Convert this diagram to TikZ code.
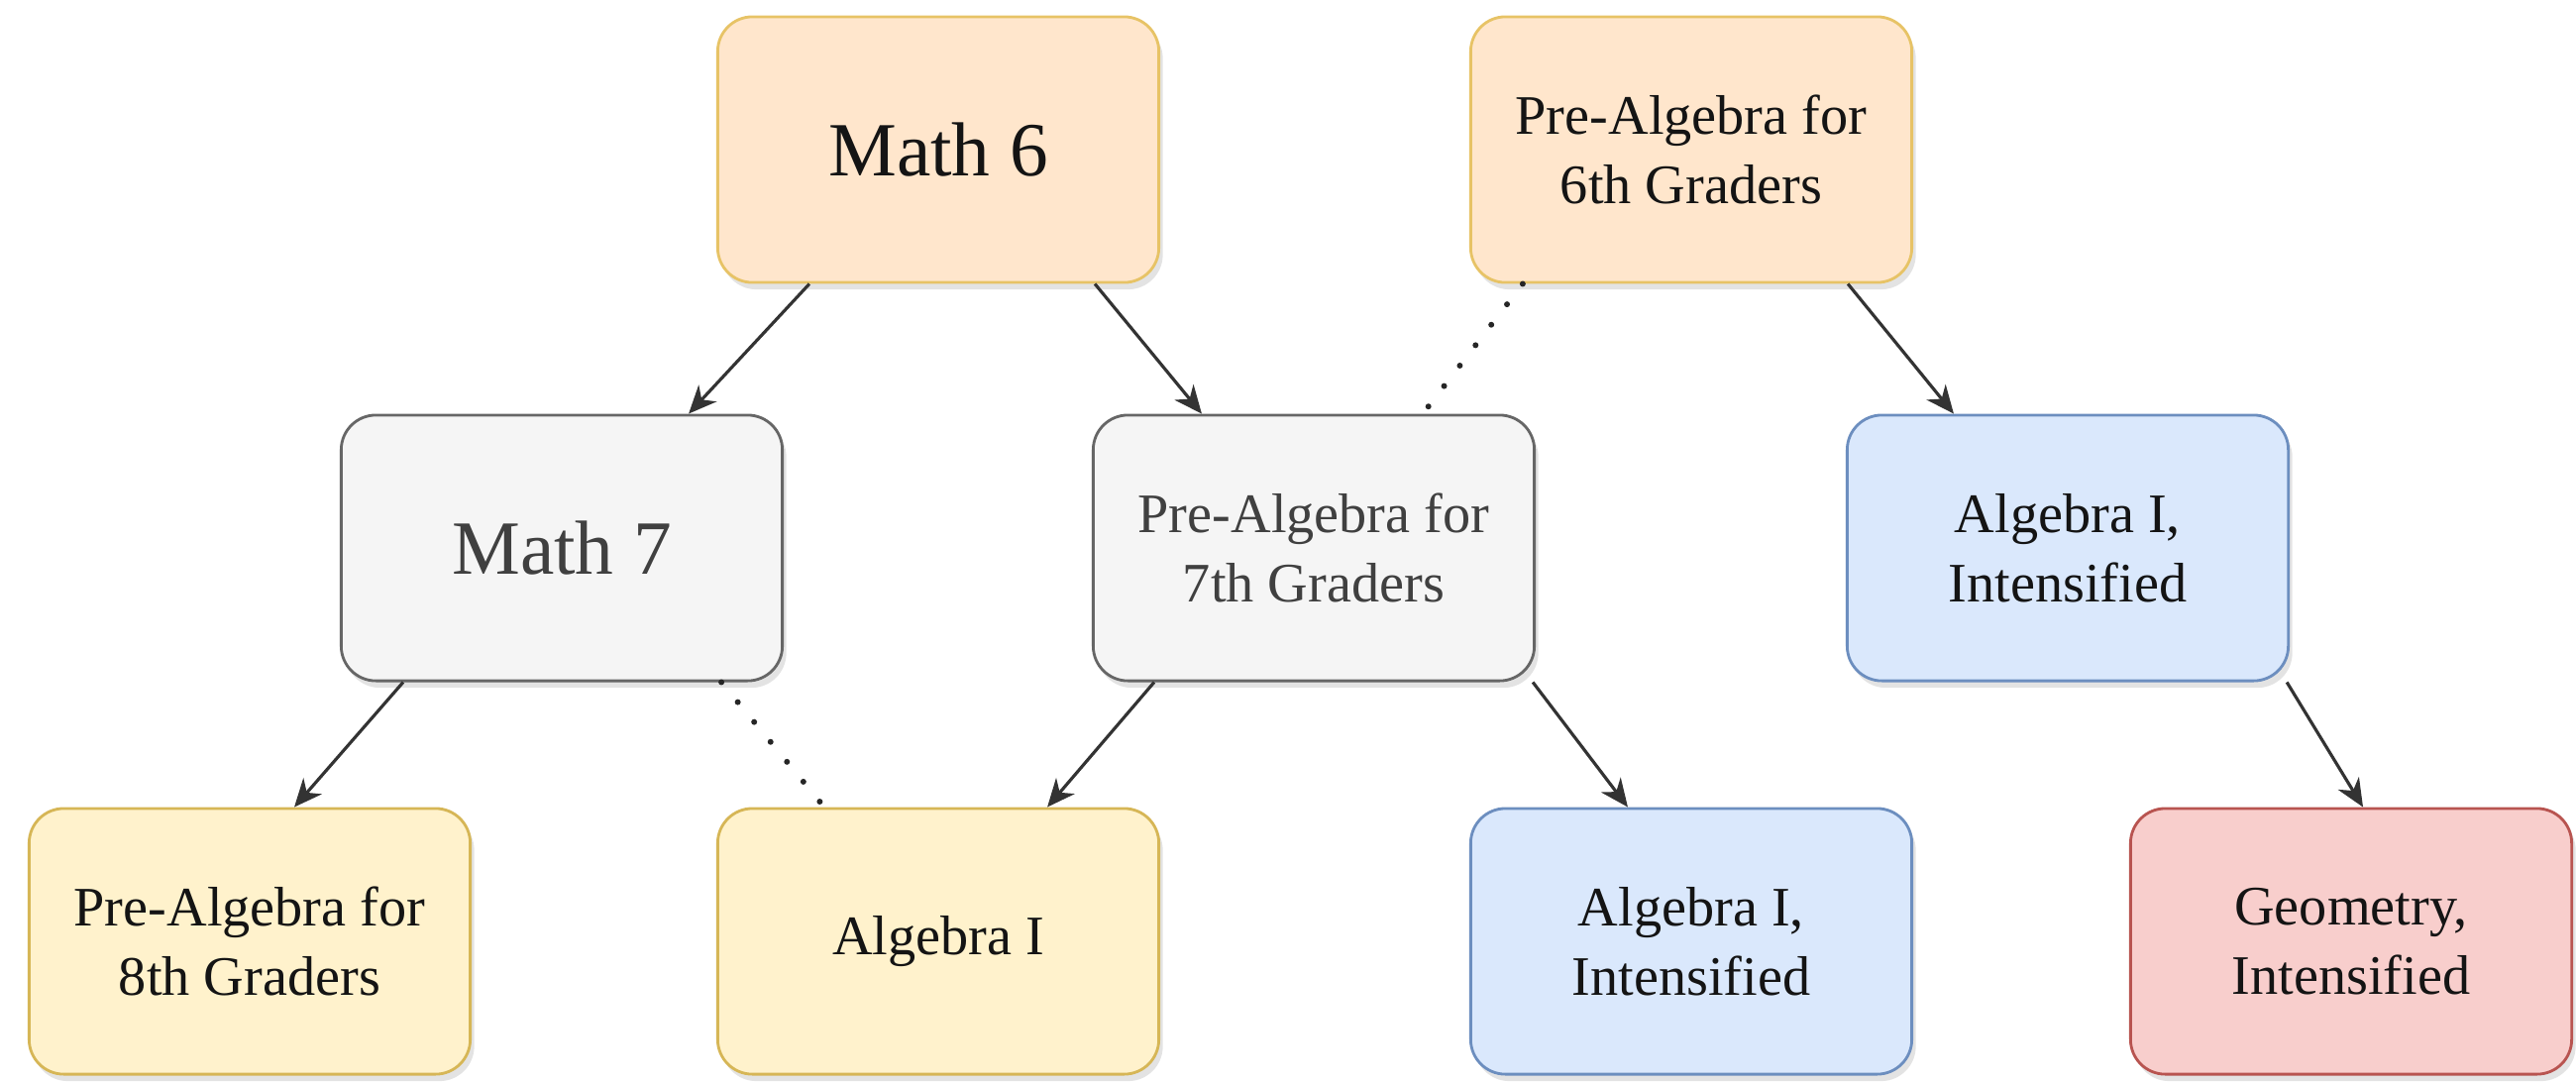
\documentclass[tikz,border=0pt]{standalone}
\usepackage{fontspec}
\setmainfont{Liberation Serif}
\usetikzlibrary{arrows.meta,shadows}
\definecolor{orfill}{HTML}{FFE6CC}\definecolor{ordraw}{HTML}{D79B00}
\definecolor{grfill}{HTML}{F5F5F5}\definecolor{grdraw}{HTML}{666666}
\definecolor{yefill}{HTML}{FFF2CC}\definecolor{yedraw}{HTML}{D6B656}
\definecolor{blfill}{HTML}{DAE8FC}\definecolor{bldraw}{HTML}{6C8EBF}
\definecolor{rdfill}{HTML}{F8CECC}\definecolor{rddraw}{HTML}{B85450}
\begin{document}
\begin{tikzpicture}[x=0.01cm, y=-0.01cm,
  box/.style={draw, line width=0.8pt, rounded corners=0.35cm, minimum width=4.45cm,
    minimum height=2.68cm, align=center, text=black!92,
    font=\fontsize{16}{20}\selectfont,
    drop shadow={shadow xshift=0.04cm, shadow yshift=-0.07cm, opacity=0.22}},
  big/.style={font=\fontsize{22}{26}\selectfont},
  orbox/.style={box, fill=orfill, draw=ordraw!60},
  grbox/.style={box, fill=grfill, draw=grdraw, text=black!75},
  yebox/.style={box, fill=yefill, draw=yedraw},
  blbox/.style={box, fill=blfill, draw=bldraw},
  rdbox/.style={box, fill=rdfill, draw=rddraw},
  arr/.style={-{Stealth[length=8pt,width=7pt,inset=2.5pt]}, line width=0.9pt, draw=black!80},
  dots/.style={line width=1.7pt, dash pattern=on 0pt off 7.4pt, line cap=round, draw=black!85}]
\useasboundingbox (0,0) rectangle (2600,1093);
\node[orbox, big] (m6) at (947,151) {Math 6};
\node[orbox] (pa6) at (1707,151) {Pre-Algebra for\\6th Graders};
\node[grbox, big] (m7) at (567,553) {Math 7};
\node[grbox] (pa7) at (1326,553) {Pre-Algebra for\\7th Graders};
\node[blbox] (ai1) at (2087,553) {Algebra I,\\Intensified};
\node[yebox] (pa8) at (252,950) {Pre-Algebra for\\8th Graders};
\node[yebox] (alg) at (947,950) {Algebra I};
\node[blbox] (ai2) at (1707,950) {Algebra I,\\Intensified};
\node[rdbox] (geo) at (2373,950) {Geometry,\\Intensified};
\draw[arr] ([xshift=-1.30cm]m6.south) -- ([xshift=1.28cm]m7.north);
\draw[arr] ([xshift=1.58cm]m6.south) -- ([xshift=-1.13cm]pa7.north);
\draw[dots] ([xshift=-1.70cm]pa6.south) -- ([xshift=1.10cm]pa7.north);
\draw[arr] ([xshift=1.58cm]pa6.south) -- ([xshift=-1.15cm]ai1.north);
\draw[arr] ([xshift=-1.60cm]m7.south) -- ([xshift=0.45cm]pa8.north);
\draw[dots] ([xshift=1.61cm]m7.south) -- ([xshift=-1.15cm]alg.north);
\draw[arr] ([xshift=-1.61cm]pa7.south) -- ([xshift=1.10cm]alg.north);
\draw[arr] ([xshift=2.21cm]pa7.south) -- ([xshift=-0.64cm]ai2.north);
\draw[arr] ([xshift=2.21cm]ai1.south) -- ([xshift=0.12cm]geo.north);
\end{tikzpicture}
\end{document}
